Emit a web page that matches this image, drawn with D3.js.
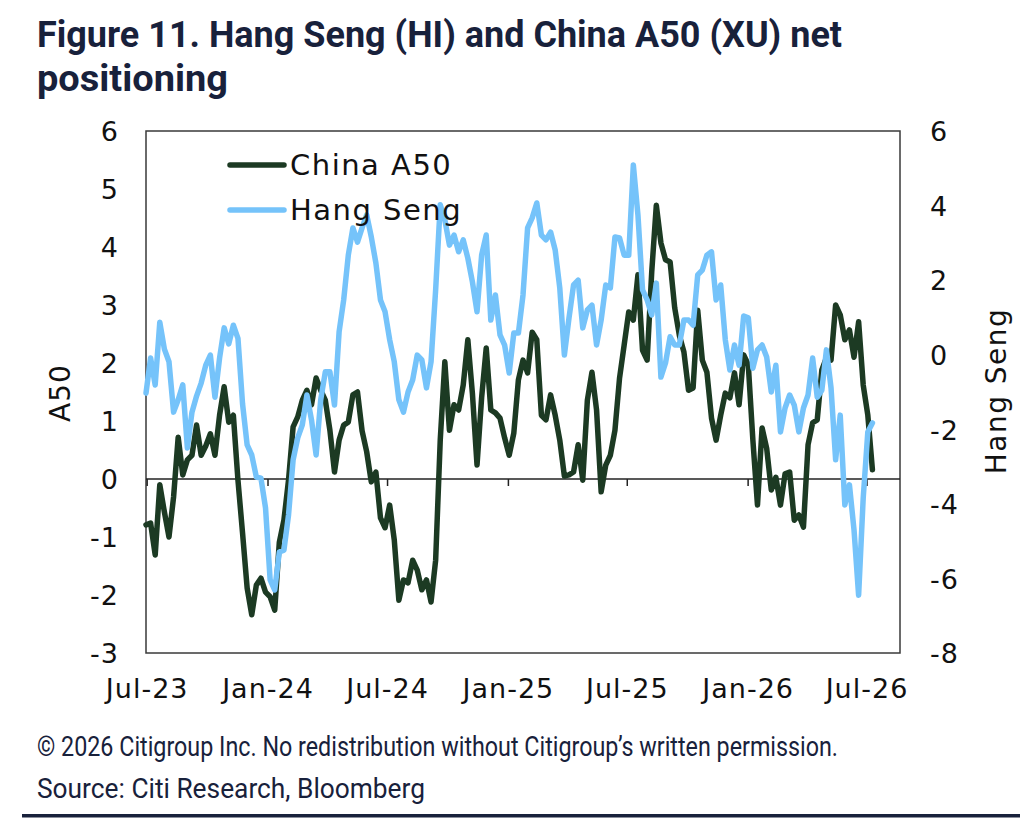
<!DOCTYPE html>
<html>
<head>
<meta charset="utf-8">
<script src="https://cdn.jsdelivr.net/npm/d3@7"></script>
<style>
  html, body { margin: 0; padding: 0; background: #fff; }
  svg { display: block; }
</style>
</head>
<body>
<svg id="chart" width="1020" height="832"></svg>
<script>
// weekly observations (Fridays)
const dates = [
  '2023-06-30',
  '2023-07-07', '2023-07-14', '2023-07-21', '2023-07-28',
  '2023-08-04', '2023-08-11', '2023-08-18', '2023-08-25',
  '2023-09-01', '2023-09-08', '2023-09-15', '2023-09-22', '2023-09-29',
  '2023-10-06', '2023-10-13', '2023-10-20', '2023-10-27',
  '2023-11-03', '2023-11-10', '2023-11-17', '2023-11-24',
  '2023-12-01', '2023-12-08', '2023-12-15', '2023-12-22', '2023-12-29',
  '2024-01-05', '2024-01-12', '2024-01-19', '2024-01-26',
  '2024-02-02', '2024-02-09', '2024-02-16', '2024-02-23',
  '2024-03-01', '2024-03-08', '2024-03-15', '2024-03-22', '2024-03-29',
  '2024-04-05', '2024-04-12', '2024-04-19', '2024-04-26',
  '2024-05-03', '2024-05-10', '2024-05-17', '2024-05-24', '2024-05-31',
  '2024-06-07', '2024-06-14', '2024-06-21', '2024-06-28',
  '2024-07-05', '2024-07-12', '2024-07-19', '2024-07-26',
  '2024-08-02', '2024-08-09', '2024-08-16', '2024-08-23', '2024-08-30',
  '2024-09-06', '2024-09-13', '2024-09-20', '2024-09-27',
  '2024-10-04', '2024-10-11', '2024-10-18', '2024-10-25',
  '2024-11-01', '2024-11-08', '2024-11-15', '2024-11-22', '2024-11-29',
  '2024-12-06', '2024-12-13', '2024-12-20', '2024-12-27',
  '2025-01-03', '2025-01-10', '2025-01-17', '2025-01-24', '2025-01-31',
  '2025-02-07', '2025-02-14', '2025-02-21', '2025-02-28',
  '2025-03-07', '2025-03-14', '2025-03-21', '2025-03-28',
  '2025-04-04', '2025-04-11', '2025-04-18', '2025-04-25',
  '2025-05-02', '2025-05-09', '2025-05-16', '2025-05-23', '2025-05-30',
  '2025-06-06', '2025-06-13', '2025-06-20', '2025-06-27',
  '2025-07-04', '2025-07-11', '2025-07-18', '2025-07-25',
  '2025-08-01', '2025-08-08', '2025-08-15', '2025-08-22', '2025-08-29',
  '2025-09-05', '2025-09-12', '2025-09-19', '2025-09-26',
  '2025-10-03', '2025-10-10', '2025-10-17', '2025-10-24', '2025-10-31',
  '2025-11-07', '2025-11-14', '2025-11-21', '2025-11-28',
  '2025-12-05', '2025-12-12', '2025-12-19', '2025-12-26',
  '2026-01-02', '2026-01-09', '2026-01-16', '2026-01-23', '2026-01-30',
  '2026-02-06', '2026-02-13', '2026-02-20', '2026-02-27',
  '2026-03-06', '2026-03-13', '2026-03-20', '2026-03-27',
  '2026-04-03', '2026-04-10', '2026-04-17', '2026-04-24',
  '2026-05-01', '2026-05-08', '2026-05-15', '2026-05-22', '2026-05-29',
  '2026-06-05', '2026-06-12', '2026-06-19', '2026-06-26',
  '2026-07-03', '2026-07-10'
]

// China A50 net positioning (left axis)
const chinaA50 = [
  -0.79, -0.76, -1.31, -0.10, -0.57, -1.00, -0.31, 0.72, 0.07, 0.33,
  0.41, 0.93, 0.41, 0.57, 0.78, 0.41, 1.10, 1.59, 0.98, 1.10,
  -0.02, -0.93, -1.88, -2.34, -1.83, -1.71, -1.95, -2.03, -2.26, -1.09,
  -0.71, -0.02, 0.90, 1.07, 1.36, 1.53, 1.28, 1.74, 1.53, 1.36,
  0.84, 0.12, 0.67, 0.93, 0.98, 1.45, 1.50, 0.83, 0.47, -0.05,
  0.12, -0.67, -0.84, -0.45, -1.05, -2.09, -1.74, -1.79, -1.40, -1.57,
  -1.91, -1.74, -2.12, -1.40, 0.67, 2.02, 0.84, 1.28, 1.19, 1.62,
  2.40, 1.47, 0.24, 1.40, 2.26, 1.19, 1.14, 1.05, 0.71, 0.41,
  0.79, 1.71, 2.05, 1.83, 2.53, 2.40, 1.10, 1.02, 1.45, 1.10,
  0.67, 0.05, 0.07, 0.12, 0.59, -0.02, 1.36, 1.84, 1.19, -0.22,
  0.24, 0.41, 0.84, 1.74, 2.31, 2.88, 2.74, 3.52, 2.22, 2.05,
  3.57, 4.72, 4.07, 3.78, 3.74, 2.95, 2.48, 2.19, 1.53, 1.57,
  2.91, 2.05, 1.84, 1.05, 0.67, 1.10, 1.48, 1.40, 1.83, 1.28,
  2.14, 1.97, 0.67, -0.45, 0.88, 0.53, -0.19, 0.03, -0.45, 0.09,
  0.12, -0.71, -0.62, -0.83, 0.59, 0.97, 1.02, 1.88, 2.09, 2.05,
  3.00, 2.83, 2.40, 2.57, 2.10, 2.71, 1.62, 1.10, 0.16
]

// Hang Seng net positioning (right axis)
const hangSeng = [
  -1.03, -0.09, -0.81, 0.87, 0.15, -0.19, -1.54, -1.21, -0.81, -2.50,
  -1.54, -1.11, -0.76, -0.28, -0.01, -1.14, -0.09, 0.72, 0.29, 0.79,
  0.44, -1.32, -2.42, -2.69, -3.28, -3.31, -4.11, -6.04, -6.31, -5.29,
  -5.24, -4.30, -2.82, -2.23, -1.88, -1.08, -1.75, -2.69, -1.21, -0.46,
  -0.46, -1.35, 0.61, 1.47, 2.67, 3.40, 3.02, 3.40, 3.75, 3.16,
  2.46, 1.47, 1.15, 0.40, -0.19, -1.21, -1.54, -1.00, -0.68, -0.01,
  -0.14, -0.89, -0.19, 1.74, 4.02, 3.61, 2.94, 3.21, 2.76, 3.08,
  2.59, 1.95, 1.15, 2.67, 3.21, 0.93, 1.60, 0.53, 0.26, -0.49,
  0.58, 0.58, 1.60, 3.40, 3.67, 4.07, 3.21, 3.08, 3.29, 2.81,
  1.79, -0.01, 0.98, 1.87, 2.00, 0.72, 1.20, 1.33, 0.26, 0.93,
  1.87, 1.79, 3.16, 3.13, 2.67, 2.67, 5.09, 3.75, 1.74, 1.47,
  1.07, 1.92, -0.60, -0.22, 0.48, 0.26, 0.26, 0.93, 0.93, 0.79,
  2.14, 2.27, 2.67, 2.76, 1.47, 1.87, 0.40, -0.41, 0.26, -0.28,
  1.04, 0.99, -0.36, 0.13, 0.26, -0.06, -1.00, -0.28, -2.07, -1.43,
  -1.08, -1.35, -2.07, -1.43, -1.08, -0.09, -1.14, -0.95, 0.13, -0.89,
  -2.82, -1.62, -4.03, -3.49, -4.70, -6.45, -3.84, -2.07, -1.83
]

const xTickDates = ['2023-07-01', '2024-01-01', '2024-07-01', '2025-01-01', '2025-07-01', '2026-01-01', '2026-07-01']
const xTickLabels = ['Jul-23', 'Jan-24', 'Jul-24', 'Jan-25', 'Jul-25', 'Jan-26', 'Jul-26']
const leftTicks = [-3, -2, -1, 0, 1, 2, 3, 4, 5, 6]
const rightTicks = [-8, -6, -4, -2, 0, 2, 4, 6]

const NAVY = '#18213b'
const A50_COLOR = '#1c3a23'
const HS_COLOR = '#75c3fa'
const AXIS_FONT = "'DejaVu Sans', Verdana, sans-serif"

const parse = d3.timeParse('%Y-%m-%d')
const plot = { left: 146, right: 900, top: 131, bottom: 653 }

const svg = d3.select('#chart')

// title + footer
function addText (str, x, y, size, weight, width) {
  const t = svg.append('text')
    .attr('x', x)
    .attr('y', y)
    .attr('fill', NAVY)
    .style('font-family', "'Liberation Sans Narrow', Roboto, sans-serif")
    .style('font-size', size + 'px')
    .style('font-weight', weight)
    .text(str)
  if (width) t.attr('textLength', width).attr('lengthAdjust', 'spacingAndGlyphs')
  return t
}

addText('Figure 11. Hang Seng (HI) and China A50 (XU) net', 37, 47, 37, 700, 805)
addText('positioning', 37, 91, 37, 700, 191)
addText('\u00a9 2026 Citigroup Inc. No redistribution without Citigroup\u2019s written permission.', 37, 756, 28, 400, 801)
addText('Source: Citi Research, Bloomberg', 37, 798, 28, 400, 388)

svg.append('rect')
  .attr('x', 22)
  .attr('y', 814)
  .attr('width', 998)
  .attr('height', 3.5)
  .attr('fill', NAVY)

// scales
const x = d3.scaleTime()
  .domain([parse('2023-06-30'), parse('2026-08-21')])
  .range([plot.left, plot.right])

const yLeft = d3.scaleLinear()
  .domain([-3, 6])
  .range([plot.bottom, plot.top])

const yRight = d3.scaleLinear()
  .domain([-8, 6])
  .range([plot.bottom, plot.top])

// plot frame
svg.append('rect')
  .attr('x', plot.left)
  .attr('y', plot.top)
  .attr('width', plot.right - plot.left)
  .attr('height', plot.bottom - plot.top)
  .attr('fill', 'none')
  .attr('stroke', '#3a3a3a')
  .attr('stroke-width', 1.5)

// axes
const plainNum = d => String(d)

const leftAxis = svg.append('g')
  .attr('transform', `translate(${plot.left},0)`)
  .call(d3.axisLeft(yLeft).tickValues(leftTicks).tickSize(0).tickPadding(27).tickFormat(plainNum))
const rightAxis = svg.append('g')
  .attr('transform', `translate(${plot.right},0)`)
  .call(d3.axisRight(yRight).tickValues(rightTicks).tickSize(0).tickPadding(30).tickFormat(plainNum))

const xAxis = svg.append('g')
  .attr('transform', `translate(0,${yLeft(0)})`)
  .call(d3.axisBottom(x)
    .tickValues(xTickDates.map(parse))
    .tickSize(7)
    .tickFormat((d, i) => xTickLabels[i]))

xAxis.select('.domain')
  .attr('d', `M${plot.left},0H${plot.right}`)
  .attr('stroke', '#222')
  .attr('stroke-width', 1.5)
xAxis.selectAll('.tick line').attr('stroke', '#222').attr('stroke-width', 1.5)
xAxis.selectAll('.tick text')
  .attr('y', plot.bottom - yLeft(0) + 35)
  .attr('dy', '0.36em')

leftAxis.select('.domain').remove()
rightAxis.select('.domain').remove()

svg.selectAll('.tick text')
  .attr('fill', '#111')
  .style('font-family', AXIS_FONT)
  .style('font-size', '27px')
  .style('letter-spacing', '1px')
leftAxis.selectAll('.tick text').attr('dy', '0.36em')
rightAxis.selectAll('.tick text').attr('dy', '0.36em')

// axis titles
svg.append('text')
  .attr('transform', 'translate(70,393) rotate(-90)')
  .attr('text-anchor', 'middle')
  .attr('fill', '#111')
  .style('font-family', AXIS_FONT)
  .style('font-size', '28px')
  .style('letter-spacing', '1px')
  .text('A50')

svg.append('text')
  .attr('transform', 'translate(1006,391) rotate(-90)')
  .attr('text-anchor', 'middle')
  .attr('fill', '#111')
  .style('font-family', AXIS_FONT)
  .style('font-size', '28px')
  .style('letter-spacing', '1.5px')
  .text('Hang Seng')

// series
const parsedDates = dates.map(parse)

const a50Line = d3.line()
  .x((d, i) => x(parsedDates[i]))
  .y(d => yLeft(d))

const hsLine = d3.line()
  .x((d, i) => x(parsedDates[i]))
  .y(d => yRight(d))

svg.append('path')
  .datum(chinaA50)
  .attr('d', a50Line)
  .attr('fill', 'none')
  .attr('stroke', A50_COLOR)
  .attr('stroke-width', 5.5)
  .attr('stroke-linejoin', 'round')
  .attr('stroke-linecap', 'round')

svg.append('path')
  .datum(hangSeng)
  .attr('d', hsLine)
  .attr('fill', 'none')
  .attr('stroke', HS_COLOR)
  .attr('stroke-width', 5.5)
  .attr('stroke-linejoin', 'round')
  .attr('stroke-linecap', 'round')

// legend
const legendItems = [
  { name: 'China A50', color: A50_COLOR, y: 165 },
  { name: 'Hang Seng', color: HS_COLOR, y: 210 }
]

const legend = svg.append('g')
legend.selectAll('line')
  .data(legendItems)
  .enter()
  .append('line')
  .attr('x1', 230)
  .attr('x2', 284)
  .attr('y1', d => d.y)
  .attr('y2', d => d.y)
  .attr('stroke', d => d.color)
  .attr('stroke-width', 5.5)
  .attr('stroke-linecap', 'round')

legend.selectAll('text')
  .data(legendItems)
  .enter()
  .append('text')
  .attr('x', 290)
  .attr('y', d => d.y)
  .attr('dy', '0.36em')
  .attr('fill', '#111')
  .style('font-family', AXIS_FONT)
  .style('font-size', '29px')
  .style('letter-spacing', '1.5px')
  .text(d => d.name)
</script>
</body>
</html>
